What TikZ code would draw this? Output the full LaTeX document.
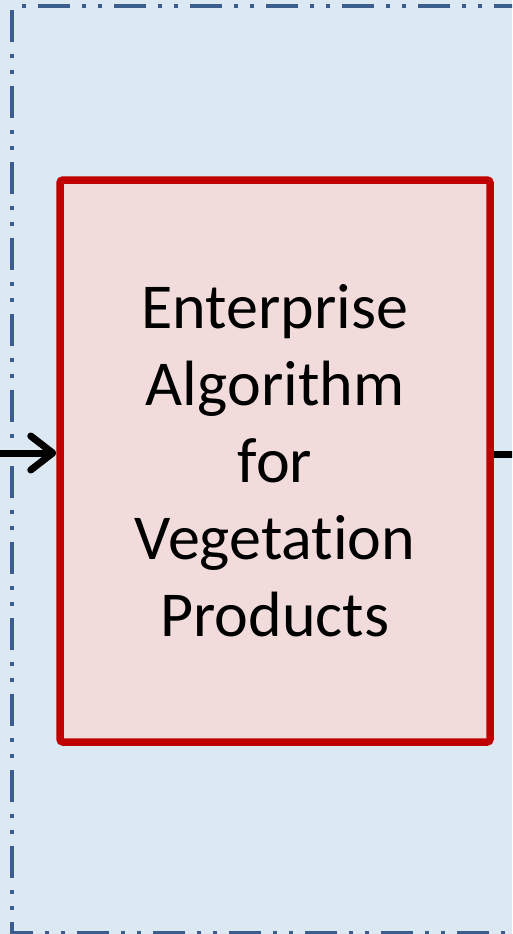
\documentclass[tikz,border=0pt]{standalone}
\usepackage{fontspec}
\setmainfont[Ligatures=NoCommon]{Carlito}
\usetikzlibrary{arrows.meta}
\definecolor{panelfill}{HTML}{DCE9F3}
\definecolor{paneledge}{HTML}{3A5F8F}
\definecolor{boxfill}{HTML}{F2DCDB}
\definecolor{boxedge}{HTML}{C00000}
\tikzset{
  panel/.style={draw=paneledge, line width=4pt,
    dash pattern=on 32pt off 12pt on 4pt off 12pt on 4pt off 12pt, dash phase=-4pt},
  algbox/.style={draw=boxedge, fill=boxfill, line width=7.5pt, rounded corners=3pt,
    minimum width=430pt, minimum height=562pt, align=center,
    font=\fontsize{64}{77}\selectfont},
  flow/.style={line width=7pt, line cap=round, line join=round},
}
\begin{document}
\begin{tikzpicture}[x=1pt,y=-1pt]
  \useasboundingbox (0,0) rectangle (512,934);
  \fill[panelfill] (0,0) rectangle (512,934);
  \begin{scope}
    \clip (0,0) rectangle (512,934);
    \draw[panel] (12,6) -- (12,933) -- (560,933) -- (560,6) -- cycle;
    \node[algbox] (alg) at (275,461) {Enterprise\\Algorithm\\for\\Vegetation\\Products};
    \coordinate (src) at (-10,453);
    \coordinate (dst) at (520,454);
    \draw[flow, -{Straight Barb[length=22pt,width=34pt,line cap=round,line join=round]}]
      (src) -- (alg.west |- src);
    \draw[line width=7pt] (alg.east |- dst) -- (dst);
  \end{scope}
\end{tikzpicture}
\end{document}
